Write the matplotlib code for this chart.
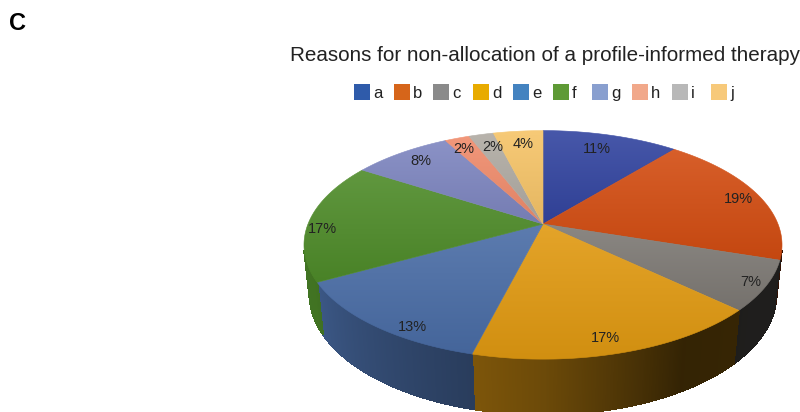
import numpy as np
import matplotlib.pyplot as plt
from matplotlib.patches import Polygon, Rectangle
from matplotlib.collections import PolyCollection
from matplotlib.colors import to_rgb

plt.rcParams['font.family'] = ['Liberation Sans', 'DejaVu Sans']

# Reasons for non-allocation, share of patients (%)
categories = ['a', 'b', 'c', 'd', 'e', 'f', 'g', 'h', 'i', 'j']
shares = [11, 19, 7, 17, 13, 17, 8, 2, 2, 4]
top_colors = ['#3345A0', '#D34D12', '#7E7A75', '#E19A12', '#4A6DA6',
              '#4F8C2A', '#7E86C0', '#F08C6C', '#B0ABA3', '#F6C468']
legend_colors = ['#2F5BAA', '#D6651A', '#8A8A8A', '#E8AB00', '#4483C0',
                 '#5E9A35', '#899FCF', '#F1A88A', '#B8B8B8', '#F7C97A']

# small pixel nudges for the percentage labels
label_nudge = [(7, 6), (13, 9), (11, 1), (22, -4), (-2, 3),
               (-13, 9), (-2, 2), (-3, 1), (4, 3), (1, 3)]

# perspective camera for the tilted disc
cx, cy = 543, 224
focal = 1135
dist = 4.83
alpha = np.arcsin(0.47)
thick = 0.24
ca, sa = np.cos(alpha), np.sin(alpha)


def project(x, y, z):
    depth = dist - y * ca - z * sa
    up = -y * sa + z * ca
    return cx + focal * x / depth, cy - focal * up / depth


def rim(phi, r=1.0, z=0.0):
    return project(r * np.sin(phi), -r * np.cos(phi), z)


def side_shade(phi):
    return np.interp(np.degrees(phi), [90, 120, 150, 180, 245, 300],
                     [0.22, 0.25, 0.23, 0.48, 0.82, 0.85])


fig = plt.figure(figsize=(8, 4.12), dpi=100)
ax = fig.add_axes([0, 0, 1, 1])
ax.axis('off')

fracs = np.array(shares) / np.sum(shares)
bounds = np.concatenate([[0], np.cumsum(fracs)]) * 2 * np.pi
vis_limit = -1 / (dist * ca)

# side walls (only the part facing the camera)
quads, cols = [], []
for i in range(len(shares)):
    phis = np.linspace(bounds[i], bounds[i + 1], 200)
    base = np.array(to_rgb(top_colors[i]))
    for p0, p1 in zip(phis[:-1], phis[1:]):
        pm = 0.5 * (p0 + p1)
        if np.cos(pm) >= vis_limit:
            continue
        xa, ya = rim(p0)
        xb, yb = rim(p1)
        xc, yc = rim(p1, z=-thick)
        xd, yd = rim(p0, z=-thick)
        quads.append([(xa, ya), (xb, yb), (xc, yc), (xd, yd)])
        cols.append(np.clip(base * side_shade(pm), 0, 1))
ax.add_collection(PolyCollection(quads, facecolors=cols, edgecolors=cols,
                                 linewidths=0.8, antialiaseds=False))

# top face, each slice with a soft top-to-bottom gradient
for i in range(len(shares)):
    phis = np.linspace(bounds[i], bounds[i + 1], 120)
    xs, ys = rim(phis)
    pts = np.array([(cx, cy)] + list(zip(xs, ys)))
    base = np.array(to_rgb(top_colors[i]))
    y0, y1 = pts[:, 1].min(), pts[:, 1].max()
    t = np.linspace(0, 1, 64)[:, None]
    grad = (base * (1 - 0.10 * (1 - t)) + 0.10 * (1 - t)) * (1 - 0.07 * t)
    img = np.repeat(grad[:, None, :], 2, axis=1)
    poly = Polygon(pts, closed=True, facecolor='none', edgecolor=top_colors[i], lw=0.4)
    ax.add_patch(poly)
    im = ax.imshow(np.clip(img, 0, 1), extent=(pts[:, 0].min(), pts[:, 0].max(), y1, y0),
                   aspect='auto', interpolation='bilinear', zorder=1)
    im.set_clip_path(poly)
ax.set_xlim(0, 800)
ax.set_ylim(412, 0)

# percentage labels on the screen-space bisector of each slice
fine = np.linspace(0, 2 * np.pi, 7201)
rx, ry = rim(fine)
rim_ang = np.arctan2(ry - cy, rx - cx)
for i, s in enumerate(shares):
    xa, ya = rim(bounds[i])
    xb, yb = rim(bounds[i + 1])
    a0 = np.arctan2(ya - cy, xa - cx)
    a1 = np.arctan2(yb - cy, xb - cx)
    d = (a1 - a0) % (2 * np.pi)
    psi = a0 + d / 2
    sel = (fine >= bounds[i]) & (fine <= bounds[i + 1])
    diff = np.abs(np.angle(np.exp(1j * (rim_ang[sel] - psi))))
    k = np.argmin(diff)
    px, py = rx[sel][k], ry[sel][k]
    lx = cx + 0.89 * (px - cx) + label_nudge[i][0]
    ly = cy + 0.89 * (py - cy) + label_nudge[i][1]
    ax.text(lx, ly, f'{s}%', ha='center', va='center', fontsize=10.5,
            color='#222222', zorder=5)

ax.text(545, 55, 'Reasons for non-allocation of a profile-informed therapy',
        ha='center', va='center', fontsize=14.9, color='#222222')
ax.text(9, 23, 'C', ha='left', va='center', fontsize=17, fontweight='bold')

# legend row with evenly spaced entries
for i, (name, c) in enumerate(zip(categories, legend_colors)):
    x0 = 354 + i * 39.7
    ax.add_patch(Rectangle((x0, 84), 16, 16, facecolor=c, edgecolor='none'))
    ax.text(x0 + 19, 93, name, ha='left', va='center', fontsize=12, color='#222222')

fig.savefig('out.png', dpi=100)
